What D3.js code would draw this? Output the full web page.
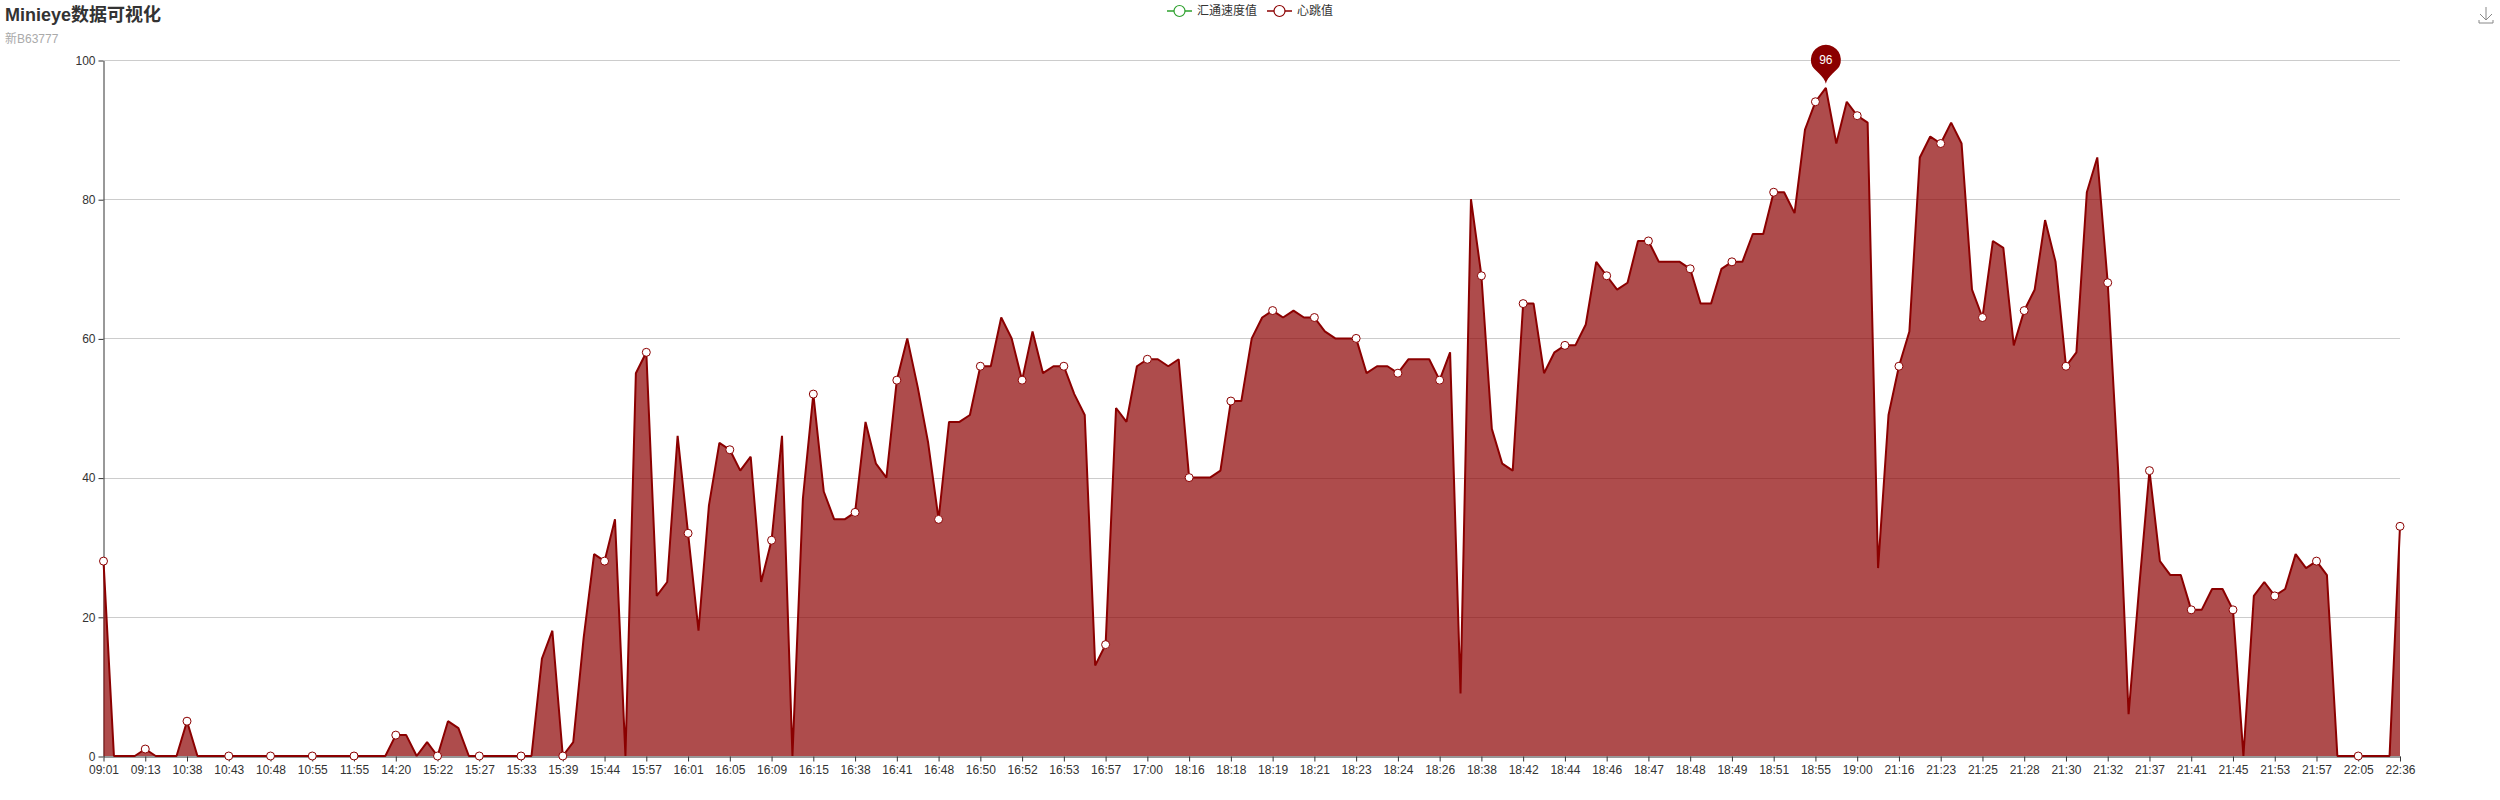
<!DOCTYPE html>
<html>
<head>
<meta charset="utf-8">
<script src="https://cdn.jsdelivr.net/npm/d3@7/dist/d3.min.js"></script>
<style>
html,body{margin:0;padding:0;background:#fff;}
svg{display:block;}
text{font-family:"Liberation Sans","Noto Sans CJK SC",sans-serif;}
</style>
</head>
<body>
<svg id="chart" width="2500" height="800"></svg>
<script>
const titleText = "Minieye数据可视化";
const subtitleText = "新B63777";
const legendNames = ["汇通速度值", "心跳值"];
const legendColors = ["#2ca02c", "#8b0000"];
const tickLabels = ["09:01","09:13","10:38","10:43","10:48","10:55","11:55","14:20","15:22","15:27","15:33","15:39","15:44","15:57","16:01","16:05","16:09","16:15","16:38","16:41","16:48","16:50","16:52","16:53","16:57","17:00","18:16","18:18","18:19","18:21","18:23","18:24","18:26","18:38","18:42","18:44","18:46","18:47","18:48","18:49","18:51","18:55","19:00","21:16","21:23","21:25","21:28","21:30","21:32","21:37","21:41","21:45","21:53","21:57","22:05","22:36"];
const heartValues = [
28,0,0,0,1,0,0,0,5,0,0,0,0,0,0,0,0,0,0,0,
0,0,0,0,0,0,0,0,3,3,0,2,0,5,4,0,0,0,0,0,
0,0,14,18,0,2,17,29,28,34,0,55,58,23,25,46,32,18,36,45,
44,41,43,25,31,46,0,37,52,38,34,34,35,48,42,40,54,60,53,45,
34,48,48,49,56,56,63,60,54,61,55,56,56,52,49,13,16,50,48,56,
57,57,56,57,40,40,40,41,51,51,60,63,64,63,64,63,63,61,60,60,
60,55,56,56,55,57,57,57,54,58,9,80,69,47,42,41,65,65,55,58,
59,59,62,71,69,67,68,74,74,71,71,71,70,65,65,70,71,71,75,75,
81,81,78,90,94,96,88,94,92,91,27,49,56,61,86,89,88,91,88,67,
63,74,73,59,64,67,77,71,56,58,81,86,68,41,6,24,41,28,26,26,
21,21,24,24,21,0,23,25,23,24,29,27,28,26,0,0,0,0,0,0,33];
const yTicks = [0,20,40,60,80,100];
const labelStep = 4;

const plotLeft = 103.5, plotRight = 2400, plotTop = 60, plotBottom = 756;
const axisColor = "#333", gridColor = "#ccc", lineColor = legendColors[1];

const svg = d3.select("#chart");
const indices = d3.range(heartValues.length);
const x = d3.scalePoint().domain(indices).range([plotLeft, plotRight]);
const y = d3.scaleLinear().domain([0, 100]).range([plotBottom, plotTop]);

// grid
svg.append("g").selectAll("line").data(yTicks.filter(d => d > 0)).join("line")
  .attr("x1", plotLeft).attr("x2", plotRight)
  .attr("y1", d => Math.round(y(d)) + 0.5).attr("y2", d => Math.round(y(d)) + 0.5)
  .attr("stroke", gridColor).attr("stroke-width", 1);

// axes
const xAxis = d3.axisBottom(x)
  .tickValues(indices.filter(i => i % labelStep === 0))
  .tickFormat(i => tickLabels[i / labelStep])
  .tickSize(5).tickPadding(4).tickSizeOuter(0);
const gx = svg.append("g").attr("transform", `translate(0,${plotBottom + 0.5})`).call(xAxis);
gx.attr("font-family", null);
gx.selectAll("text").attr("font-size", 12).attr("fill", "#333");
gx.selectAll("line").attr("stroke", axisColor);
gx.select(".domain").attr("stroke", axisColor);

const yAxis = d3.axisLeft(y).tickValues(yTicks).tickSize(5).tickPadding(3).tickSizeOuter(0);
const gy = svg.append("g").attr("transform", `translate(${plotLeft},0.5)`).call(yAxis);
gy.attr("font-family", null);
gy.selectAll("text").attr("font-size", 12).attr("fill", "#333");
gy.selectAll("line").attr("stroke", axisColor);
gy.select(".domain").attr("stroke", axisColor);

// area + line
const area = d3.area().x((d, i) => x(i)).y0(y(0)).y1(d => y(d));
const line = d3.line().x((d, i) => x(i)).y(d => y(d));
svg.append("path").datum(heartValues).attr("d", area)
  .attr("fill", lineColor).attr("fill-opacity", 0.7);
svg.append("path").datum(heartValues).attr("d", line)
  .attr("fill", "none").attr("stroke", lineColor).attr("stroke-width", 2).attr("stroke-linejoin", "bevel");

// markers at labelled points
svg.append("g").selectAll("circle").data(indices.filter(i => i % labelStep === 0)).join("circle")
  .attr("cx", i => x(i)).attr("cy", i => y(heartValues[i])).attr("r", 4)
  .attr("fill", "#fff").attr("stroke", lineColor).attr("stroke-width", 1);

// max pin
const maxVal = d3.max(heartValues);
const maxIdx = heartValues.indexOf(maxVal);
const pinX = x(maxIdx), pinTip = y(maxVal) - 4, pinR = 15, pinCy = pinTip - 24;
const a = Math.PI * 0.14;
const pinPath = d3.path();
pinPath.moveTo(pinX, pinTip);
pinPath.bezierCurveTo(pinX - 1, pinTip - 7, pinX - pinR * Math.cos(a) + 1, pinCy + pinR * Math.sin(a) + 3, pinX - pinR * Math.cos(a), pinCy + pinR * Math.sin(a));
pinPath.arc(pinX, pinCy, pinR, Math.PI - a, a, false);
pinPath.bezierCurveTo(pinX + pinR * Math.cos(a) - 1, pinCy + pinR * Math.sin(a) + 3, pinX + 1, pinTip - 7, pinX, pinTip);
svg.append("path").attr("d", pinPath.toString()).attr("fill", lineColor);
svg.append("text").attr("x", pinX).attr("y", pinCy).attr("dy", "0.36em")
  .attr("text-anchor", "middle").attr("font-size", 12).attr("fill", "#fff").text(maxVal);

// title
svg.append("text").attr("x", 5).attr("y", 21).attr("font-size", 18).attr("font-weight", "bold").attr("fill", "#333").text(titleText);
svg.append("text").attr("x", 5).attr("y", 43).attr("font-size", 12).attr("fill", "#aaa").text(subtitleText);

// legend
const legendX = [1167, 1267];
legendNames.forEach((name, k) => {
  const g = svg.append("g").attr("transform", `translate(${legendX[k]},11)`);
  g.append("line").attr("x1", 0).attr("x2", 25).attr("y1", 0).attr("y2", 0).attr("stroke", legendColors[k]).attr("stroke-width", 2).attr("stroke-opacity", 0.75);
  g.append("circle").attr("cx", 12.5).attr("r", 5.5).attr("fill", "#fff").attr("stroke", legendColors[k]).attr("stroke-width", 1.2);
  g.append("text").attr("x", 30).attr("dy", "0.35em").attr("font-size", 12).attr("fill", "#333").text(name);
});

// download icon
svg.append("path").attr("transform", "translate(2486,14)")
  .attr("d", "M0,-7V6M-6,0L0,6L6,0M-7,6V9H7V6")
  .attr("fill", "none").attr("stroke", "#888").attr("stroke-width", 1);
</script>
</body>
</html>
